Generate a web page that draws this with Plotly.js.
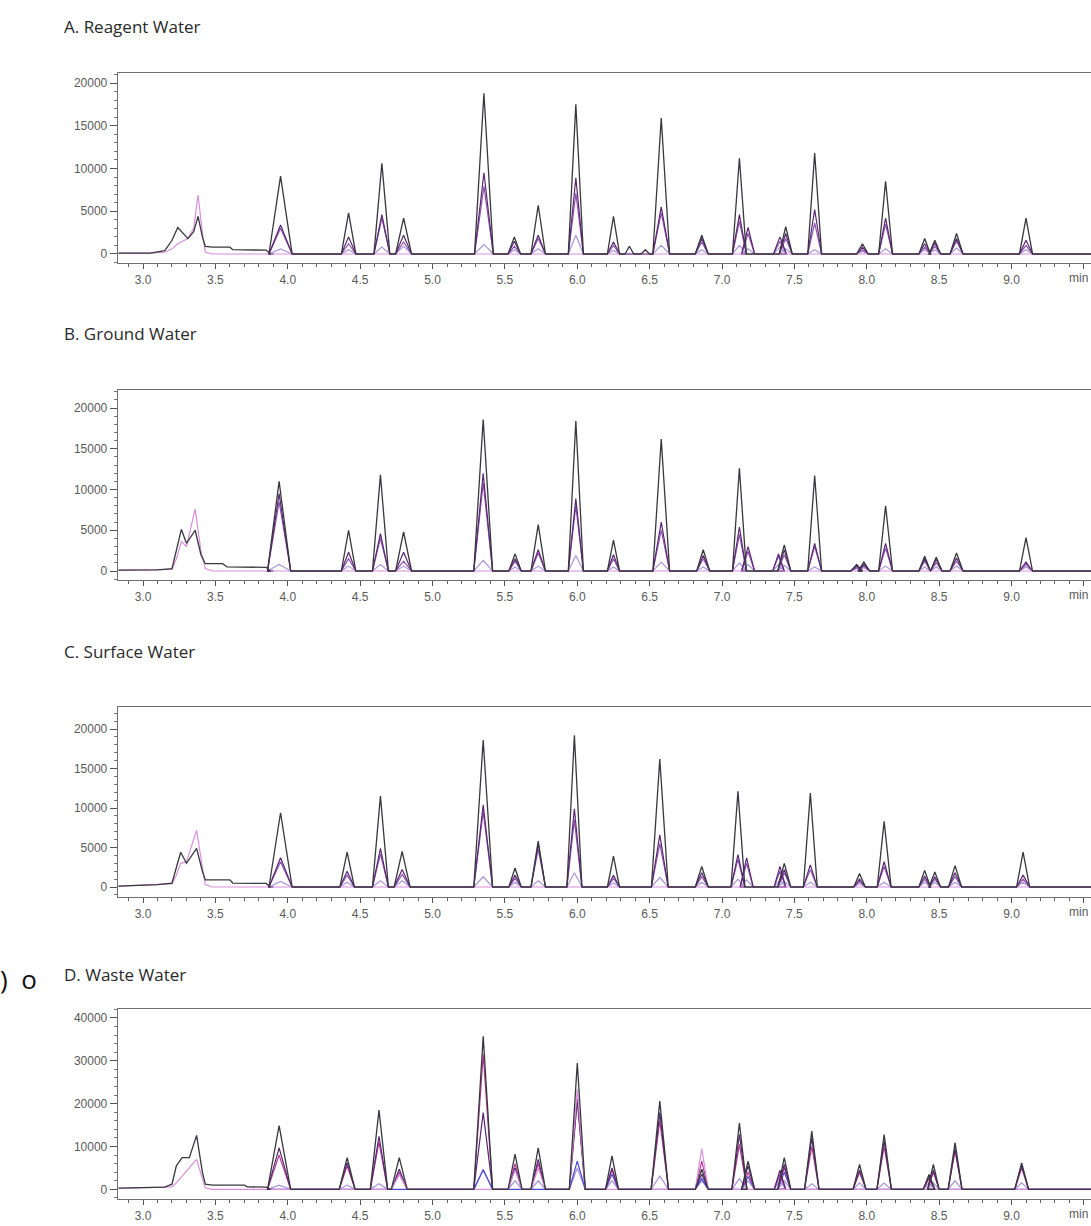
<!DOCTYPE html>
<html>
<head>
<meta charset="utf-8">
<script src="https://cdn.plot.ly/plotly-3.0.1.min.js"></script>
<style>html,body{margin:0;padding:0;background:#fff;overflow:hidden}#chart{width:1091px;height:1226px}</style>
</head>
<body>
<div id="chart"></div>
<script>
// ---------------- DATA (retention time in min, intensity in counts) ----------------
const panelTitles = ["A. Reagent Water", "B. Ground Water", "C. Surface Water", "D. Waste Water"];
const xTickVals = [3.0, 3.5, 4.0, 4.5, 5.0, 5.5, 6.0, 6.5, 7.0, 7.5, 8.0, 8.5, 9.0, 9.5];
const xTickText = ["3.0", "3.5", "4.0", "4.5", "5.0", "5.5", "6.0", "6.5", "7.0", "7.5", "8.0", "8.5", "9.0", ""];
const xUnitLabel = "min";

// Panel A
const earlyT_A     = [2.83, 3.05, 3.15, 3.20, 3.24, 3.28, 3.31, 3.35, 3.38, 3.41, 3.43, 3.48, 3.60, 3.62, 3.85, 3.88];
const earlyBlack_A = [100, 100, 400, 1600, 3100, 2400, 1800, 2600, 4400, 2000, 900, 800, 800, 500, 450, 0];
const earlyPink_A  = [100, 100, 200, 600, 1200, 1600, 1800, 3000, 6900, 2500, 200, 0, 0, 0, 0, 0];
const rt_A      = [3.95, 4.42, 4.65, 4.80, 5.355, 5.565, 5.73, 5.99, 6.25, 6.36, 6.47, 6.58, 6.86, 7.12, 7.18, 7.40, 7.44, 7.64, 7.97, 8.13, 8.40, 8.47, 8.62, 9.10];
const width_A   = [0.08, 0.05, 0.055, 0.055, 0.065, 0.043, 0.05, 0.052, 0.042, 0.03, 0.03, 0.058, 0.045, 0.048, 0.045, 0.045, 0.045, 0.048, 0.04, 0.048, 0.04, 0.04, 0.045, 0.045];
const black_A   = [9100, 4800, 10600, 4200, 18800, 2000, 5700, 17500, 4400, 900, 500, 15900, 2200, 11200, 0, 0, 3200, 11800, 1200, 8500, 1800, 1600, 2400, 4200];
const dpurple_A = [3400, 2000, 4600, 2200, 9500, 1500, 2200, 8900, 1400, 0, 0, 5500, 1800, 4600, 3100, 2000, 2400, 5200, 800, 4200, 1200, 1300, 1800, 1600];
const purple_A  = [3000, 1200, 4200, 1400, 7900, 900, 1800, 7100, 1000, 0, 0, 4800, 1400, 3800, 2400, 1500, 1800, 3600, 500, 3500, 800, 900, 1500, 1000];
const lav_A     = [600, 500, 800, 900, 1100, 500, 600, 2200, 400, 0, 0, 1000, 500, 1000, 600, 800, 600, 500, 300, 600, 500, 500, 700, 500];

// Panel B
const earlyT_B     = [2.83, 3.10, 3.20, 3.23, 3.265, 3.30, 3.36, 3.40, 3.43, 3.48, 3.55, 3.58, 3.85, 3.88];
const earlyBlack_B = [100, 150, 300, 2500, 5100, 3400, 5000, 2000, 900, 900, 900, 500, 450, 0];
const earlyPink_B  = [100, 150, 200, 1500, 3600, 3000, 7600, 2500, 300, 0, 0, 0, 0, 0];
const rt_B      = [3.94, 4.42, 4.64, 4.80, 5.35, 5.57, 5.73, 5.99, 6.25, 6.58, 6.87, 7.12, 7.18, 7.39, 7.43, 7.64, 7.93, 7.98, 8.13, 8.40, 8.48, 8.62, 9.10];
const width_B   = [0.08, 0.05, 0.055, 0.055, 0.065, 0.043, 0.05, 0.052, 0.042, 0.058, 0.045, 0.048, 0.045, 0.04, 0.045, 0.048, 0.04, 0.04, 0.048, 0.04, 0.04, 0.045, 0.045];
const black_B   = [11000, 5000, 11800, 4800, 18600, 2100, 5700, 18400, 3800, 16200, 2600, 12600, 0, 0, 3200, 11700, 800, 1100, 8000, 1800, 1700, 2200, 4100];
const dpurple_B = [9500, 2300, 4600, 2300, 12000, 1500, 2600, 8900, 2000, 6000, 1900, 5400, 3000, 2100, 2600, 3400, 600, 800, 3400, 1500, 1400, 1600, 1100];
const purple_B  = [8500, 1500, 4000, 1200, 10800, 1200, 2200, 8000, 1500, 5000, 1500, 4500, 2400, 1800, 2000, 3000, 400, 600, 2800, 1200, 1000, 1200, 800];
const lav_B     = [800, 600, 800, 600, 1300, 500, 600, 1900, 500, 1100, 500, 1000, 800, 800, 700, 500, 300, 400, 600, 500, 500, 600, 500];

// Panel C
const earlyT_C     = [2.83, 3.10, 3.20, 3.23, 3.26, 3.30, 3.37, 3.41, 3.43, 3.48, 3.60, 3.62, 3.85, 3.88];
const earlyBlack_C = [100, 300, 500, 2500, 4400, 3000, 4900, 2000, 900, 900, 900, 500, 450, 0];
const earlyPink_C  = [100, 300, 400, 1500, 3000, 3200, 7200, 2500, 300, 0, 0, 0, 0, 0];
const rt_C      = [3.95, 4.41, 4.64, 4.79, 5.35, 5.57, 5.73, 5.98, 6.25, 6.57, 6.86, 7.11, 7.17, 7.40, 7.43, 7.61, 7.95, 8.12, 8.40, 8.47, 8.61, 9.08];
const width_C   = [0.08, 0.05, 0.055, 0.055, 0.065, 0.043, 0.05, 0.052, 0.042, 0.058, 0.045, 0.048, 0.045, 0.04, 0.045, 0.048, 0.04, 0.048, 0.04, 0.04, 0.045, 0.045];
const black_C   = [9400, 4400, 11500, 4500, 18600, 2400, 5800, 19200, 3900, 16200, 2600, 12100, 0, 0, 3000, 11900, 1700, 8300, 2100, 1900, 2700, 4400];
const dpurple_C = [3700, 2000, 4900, 2200, 10400, 1500, 5500, 9900, 1500, 6600, 1800, 4100, 3700, 2600, 2200, 2800, 1000, 3200, 1400, 1300, 1800, 1500];
const purple_C  = [3200, 1500, 4200, 1600, 9500, 1100, 4800, 8500, 1100, 5500, 1300, 3500, 3000, 2000, 1800, 2200, 700, 2600, 1000, 1000, 1300, 1000];
const lav_C     = [700, 600, 800, 800, 1300, 600, 800, 1800, 500, 1200, 600, 1000, 900, 900, 700, 600, 400, 600, 600, 600, 600, 600];

// Panel D
const earlyT_D     = [2.83, 3.15, 3.20, 3.23, 3.27, 3.32, 3.37, 3.41, 3.43, 3.48, 3.70, 3.72, 3.85, 3.88];
const earlyBlack_D = [300, 500, 1200, 5500, 7400, 7400, 12600, 4000, 1200, 1000, 1000, 600, 500, 0];
const earlyPink_D  = [200, 400, 600, 1500, 3000, 5000, 7000, 2500, 300, 0, 0, 0, 0, 0];
const rt_D      = [3.94, 4.41, 4.63, 4.77, 5.35, 5.57, 5.73, 6.00, 6.24, 6.57, 6.86, 7.12, 7.18, 7.40, 7.43, 7.62, 7.95, 8.12, 8.43, 8.46, 8.61, 9.07];
const width_D   = [0.08, 0.055, 0.06, 0.055, 0.065, 0.048, 0.05, 0.055, 0.045, 0.06, 0.045, 0.052, 0.045, 0.04, 0.045, 0.05, 0.045, 0.05, 0.04, 0.04, 0.048, 0.048];
const black_D   = [14900, 7400, 18500, 7400, 35700, 8200, 9700, 29500, 7800, 20600, 4700, 15500, 6600, 0, 7400, 13600, 5800, 12800, 3500, 5800, 10900, 6200];
const dpurple_D = [9700, 6200, 12400, 4700, 17900, 5000, 7000, 21000, 5000, 17900, 3500, 12800, 5500, 4500, 5800, 12000, 4500, 11300, 3000, 4500, 9500, 5500];
const magenta_D = [8000, 5500, 11000, 4000, 31500, 6000, 6000, 21000, 4500, 16000, 6600, 10500, 4000, 3500, 5000, 10000, 4000, 10000, 2500, 4000, 9000, 5000];
const pink_D    = [0, 0, 0, 3500, 0, 4500, 5000, 23300, 0, 0, 9500, 0, 0, 0, 0, 0, 0, 0, 0, 0, 0, 0];
const blue_D    = [0, 0, 0, 0, 4500, 0, 0, 6600, 3500, 0, 2500, 0, 3000, 3500, 4000, 0, 0, 0, 0, 0, 0, 0];
const lav_D     = [1000, 1000, 1300, 3500, 4700, 2000, 2000, 5000, 2000, 3100, 2000, 2500, 2000, 2000, 2000, 1300, 1500, 1500, 1500, 1500, 2000, 1500];

// ---------------- STYLE / LAYOUT ----------------
const COL = {black:'#38383f', dpurple:'#5a2870', purple:'#9052b4', magenta:'#b83a98', pink:'#d98fdb', lav:'#a996da', blue:'#4848d8'};
const T_END = 9.6, T_SEG = 3.90;
const W = 1091, H = 1226;
const X_RANGE = [2.827, 9.549];
const X_LEFT_PX = 118;
const TICKFONT = {family: 'Liberation Sans, Arial, sans-serif', size: 12, color: '#5a5a5a'};
const boxes = [
  {top: 73,  bot: 263,  yr: [-1055, 21170], dt: 5000,  mdt: 1000, titleY: 27},
  {top: 390, bot: 580,  yr: [-1104, 22210], dt: 5000,  mdt: 1000, titleY: 333},
  {top: 707, bot: 897,  yr: [-1266, 22785], dt: 5000,  mdt: 1000, titleY: 652},
  {top: 1009,bot: 1199, yr: [-2250, 42093], dt: 10000, mdt: 2000, titleY: 974}
];

function peakLine(rt, w, h, leadT, leadY) {
  const xs = [], ys = [];
  if (leadT) { for (let i = 0; i < leadT.length; i++) { xs.push(leadT[i]); ys.push(leadY[i]); } }
  else { xs.push(T_SEG); ys.push(0); }
  if (h) {
    for (let i = 0; i < rt.length; i++) {
      if (h[i] > 0) { xs.push(rt[i] - w[i], rt[i], rt[i] + w[i]); ys.push(0, h[i], 0); }
    }
  }
  xs.push(T_END); ys.push(0);
  return {xs, ys};
}

const panels = [
  {rt: rt_A, w: width_A, eT: earlyT_A, eB: earlyBlack_A, eP: earlyPink_A,
   series: [['lav', lav_A], ['purple', purple_A], ['dpurple', dpurple_A]], black: black_A, pink: null},
  {rt: rt_B, w: width_B, eT: earlyT_B, eB: earlyBlack_B, eP: earlyPink_B,
   series: [['lav', lav_B], ['purple', purple_B], ['dpurple', dpurple_B]], black: black_B, pink: null},
  {rt: rt_C, w: width_C, eT: earlyT_C, eB: earlyBlack_C, eP: earlyPink_C,
   series: [['lav', lav_C], ['purple', purple_C], ['dpurple', dpurple_C]], black: black_C, pink: null},
  {rt: rt_D, w: width_D, eT: earlyT_D, eB: earlyBlack_D, eP: earlyPink_D,
   series: [['lav', lav_D], ['blue', blue_D], ['magenta', magenta_D], ['dpurple', dpurple_D]], black: black_D, pink: pink_D}
];

const traces = [];
const layout = {
  width: W, height: H, margin: {l: 0, r: 0, t: 0, b: 0},
  paper_bgcolor: '#fff', plot_bgcolor: '#fff', showlegend: false,
  font: TICKFONT,
  annotations: []
};

panels.forEach((p, k) => {
  const n = k === 0 ? '' : String(k + 1);
  const xa = 'x' + n, ya = 'y' + n;
  const add = (xy, color, wdt) => traces.push({
    type: 'scatter', mode: 'lines', x: xy.xs, y: xy.ys, xaxis: xa, yaxis: ya,
    line: {color: color, width: wdt || 1.2}, hoverinfo: 'skip'
  });
  p.series.forEach(s => add(peakLine(p.rt, p.w, s[1]), COL[s[0]]));
  add(peakLine(p.rt, p.w, p.pink, p.eT, p.eP), COL.pink);
  add(peakLine(p.rt, p.w, p.black, p.eT, p.eB), COL.black, 1.3);

  const b = boxes[k];
  layout['xaxis' + n] = {
    domain: [X_LEFT_PX / W, 1], range: X_RANGE, anchor: ya,
    showline: true, linecolor: '#707070', linewidth: 1.3, mirror: true,
    showgrid: false, zeroline: false,
    tickmode: 'array', tickvals: xTickVals, ticktext: xTickText,
    ticks: 'outside', ticklen: 5, tickcolor: '#555', tickwidth: 1,
    minor: {tickmode: 'linear', tick0: 0, dtick: 0.1, ticks: 'outside', ticklen: 3, tickcolor: '#666', showgrid: false},
    tickfont: TICKFONT, fixedrange: true
  };
  layout['yaxis' + n] = {
    domain: [1 - b.bot / H, 1 - b.top / H], range: b.yr, anchor: xa,
    showline: true, linecolor: '#707070', linewidth: 1.3,
    showgrid: false, zeroline: false,
    tickmode: 'linear', tick0: 0, dtick: b.dt, tickformat: 'd',
    ticks: 'outside', ticklen: 7, tickcolor: '#555',
    minor: {tickmode: 'linear', tick0: 0, dtick: b.mdt, ticks: 'outside', ticklen: 3, tickcolor: '#777', showgrid: false},
    tickfont: TICKFONT, fixedrange: true
  };
  layout.annotations.push({
    xref: 'paper', yref: 'paper', x: 62 / W, y: 1 - b.titleY / H,
    xanchor: 'left', yanchor: 'middle', showarrow: false,
    text: panelTitles[k], font: {family: 'Open Sans, Noto Sans, sans-serif', size: 17, color: '#2a2a2a'}
  });
  layout.annotations.push({
    xref: 'paper', yref: ya + ' domain', x: 1, y: 0, yshift: -15,
    xanchor: 'right', yanchor: 'middle', xshift: -1, showarrow: false,
    text: xUnitLabel, font: TICKFONT
  });
});

layout.annotations.push({
  xref: 'paper', yref: 'paper', x: -2 / W, y: 1 - 979 / H,
  xanchor: 'left', yanchor: 'middle', showarrow: false,
  text: ')&nbsp;&nbsp;o', font: {family: 'Open Sans, Noto Sans, sans-serif', size: 26, color: '#111'}
});

Plotly.newPlot('chart', traces, layout, {displayModeBar: false, staticPlot: true});
</script>
</body>
</html>
